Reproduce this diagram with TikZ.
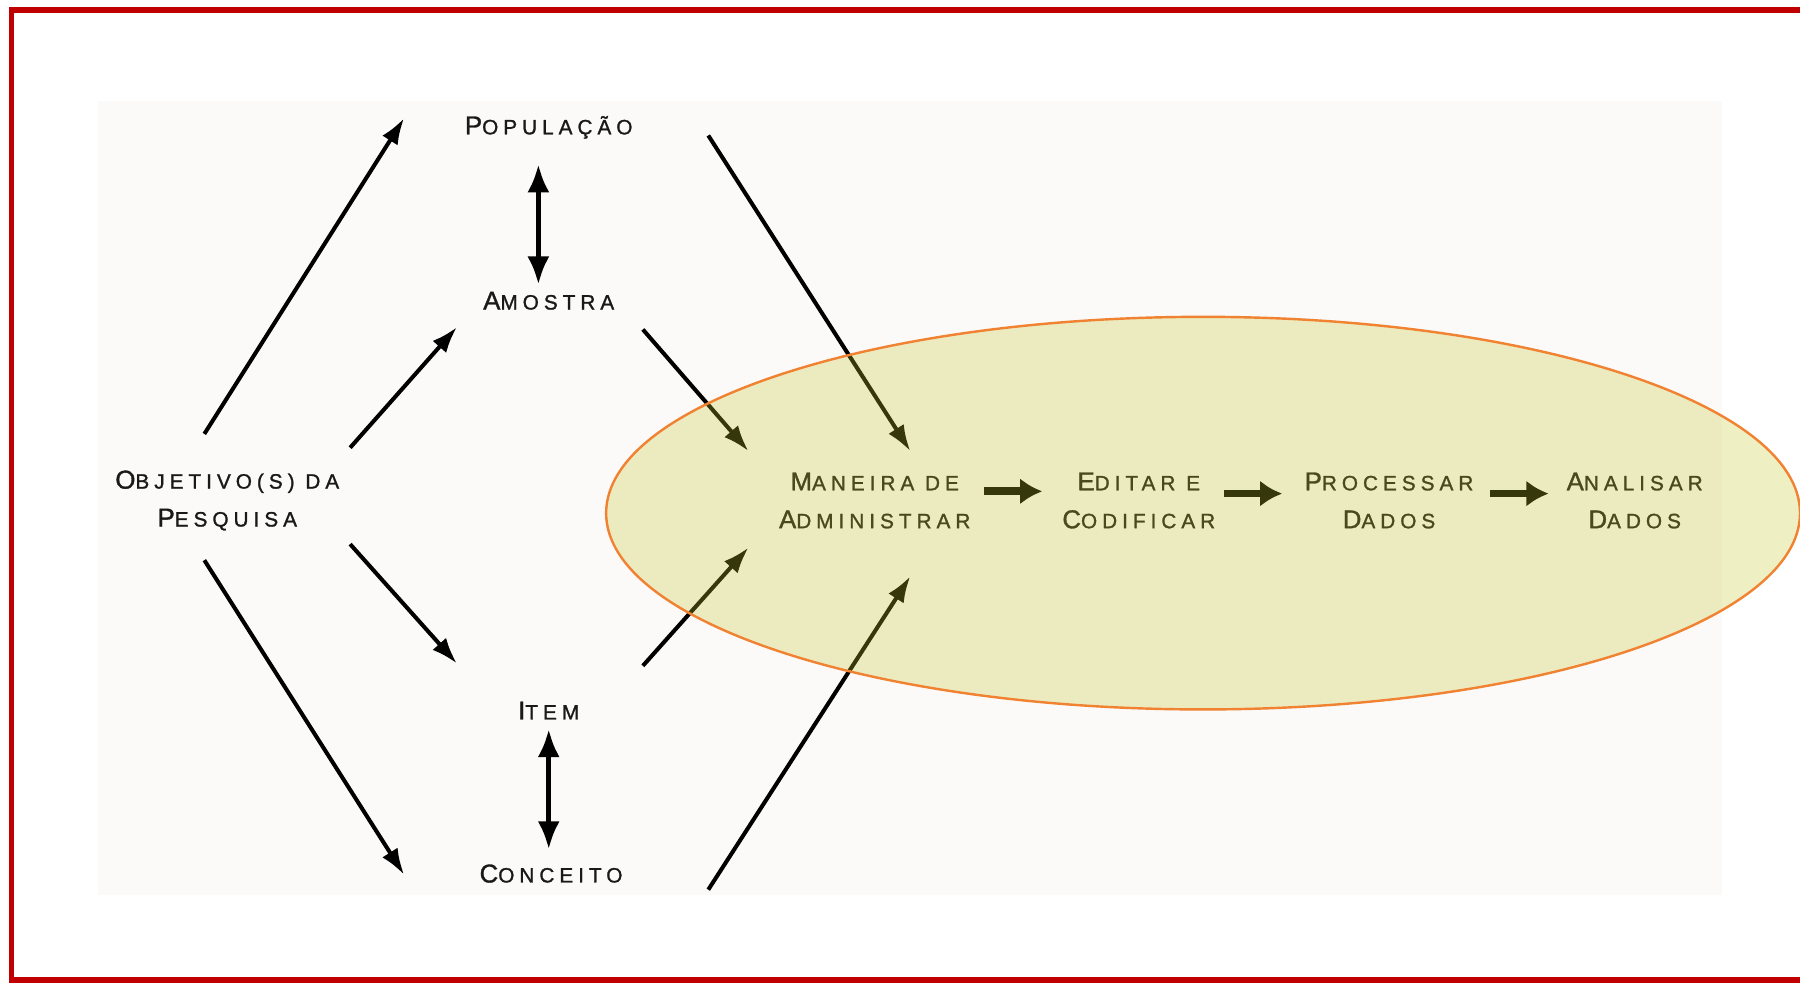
\documentclass[tikz,border=0pt]{standalone}
\usepackage{fontspec}
\newfontfamily\capsfont[LetterSpace=24,FakeBold=1.2]{Liberation Sans}
\usetikzlibrary{arrows.meta}
\definecolor{framered}{RGB}{192,0,0}
\definecolor{panelgray}{RGB}{251,250,248}
\definecolor{ovalfill}{RGB}{198,198,45}
\definecolor{ovalline}{RGB}{240,130,50}
\newcommand{\inic}[1]{{\fontsize{12.8}{18.8}\selectfont #1}}
\tikzset{
  lbl/.style={font=\capsfont\fontsize{10.3}{18.8}\selectfont, text=black!90, align=center, inner sep=1pt},
  arr/.style={-{Latex[length=13pt,width=9pt]}, line width=2pt},
  dbl/.style={{Latex[length=14pt,width=11pt]}-{Latex[length=14pt,width=11pt]}, line width=2.6pt},
  flow/.style={-{Latex[length=11pt,width=13pt]}, line width=3.8pt}
}

\begin{document}
\begin{tikzpicture}[x=0.02cm,y=-0.02cm]
\useasboundingbox (0,0) rectangle (1568,857);
\clip (0,0) rectangle (1568,857);
\fill [white] (0,0) rectangle (1568,857);
\fill [panelgray] (85,88) rectangle (1500,780);
\draw [framered, line width=0.1cm] (1590,9) -- (10,9) -- (10,854) -- (1590,854);

\node[lbl] (obj) at (198,436) {\inic{O}BJETIVO(S) DA\\\inic{P}ESQUISA};
\node[lbl] (pop) at (478,111) {\inic{P}OPULAÇÃO};
\node[lbl] (amo) at (478,262) {\inic{A}MOSTRA};
\node[lbl] (item) at (478,619) {\inic{I}TEM};
\node[lbl] (conc) at (480,761) {\inic{C}ONCEITO};
\node[lbl] (man) at (762,436) {\inic{M}ANEIRA DE\\\inic{A}DMINISTRAR};
\node[lbl] (edi) at (992,436) {\inic{E}DITAR E\\\inic{C}ODIFICAR};
\node[lbl] (pro) at (1210,436) {\inic{P}ROCESSAR\\\inic{D}ADOS};
\node[lbl] (ana) at (1424,436) {\inic{A}NALISAR\\\inic{D}ADOS};

\draw [arr] ([shift={(-20,-58)}]obj.center) -- ([shift={(-126,-8)}]pop.center);
\draw [arr] ([shift={(107,-46)}]obj.center) -- ([shift={(-80,23)}]amo.center);
\draw [arr] ([shift={(107,38)}]obj.center) -- ([shift={(-80,-41)}]item.center);
\draw [arr] ([shift={(-20,52)}]obj.center) -- ([shift={(-128,1)}]conc.center);
\draw [dbl] ([shift={(-9,32)}]pop.center) -- ([shift={(-9,-14)}]amo.center);
\draw [dbl] ([shift={(0,16)}]item.center) -- ([shift={(-2,-21)}]conc.center);
\draw [arr] ([shift={(139,7)}]pop.center) -- ([shift={(31,-43)}]man.center);
\draw [arr] ([shift={(82,25)}]amo.center) -- ([shift={(-110,-43)}]man.center);
\draw [arr] ([shift={(82,-39)}]item.center) -- ([shift={(-110,41)}]man.center);
\draw [arr] ([shift={(137,14)}]conc.center) -- ([shift={(31,66)}]man.center);
\draw [flow] ([shift={(95,-8)}]man.center) -- ([shift={(-84,-8)}]edi.center);
\draw [flow] ([shift={(74,-6)}]edi.center) -- ([shift={(-93,-6)}]pro.center);
\draw [flow] ([shift={(88,-6)}]pro.center) -- ([shift={(-75,-6)}]ana.center);

\draw [ovalline, line width=1.2pt, fill=ovalfill, fill opacity=0.28] (1048,447) ellipse [x radius=520, y radius=171];
\end{tikzpicture}
\end{document}
